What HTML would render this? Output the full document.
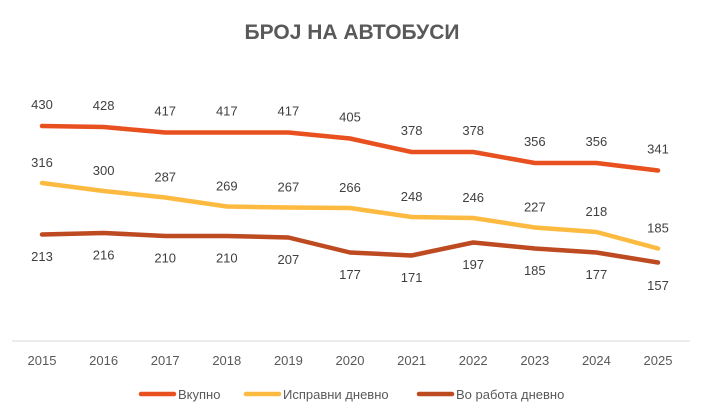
<!DOCTYPE html>
<html><head><meta charset="utf-8"><style>body{margin:0;background:#fff}svg{display:block}</style></head><body>
<svg width="714" height="412" xmlns="http://www.w3.org/2000/svg" font-family="Liberation Sans, sans-serif">
<rect width="714" height="412" fill="#fff"/>
<text x="352" y="39" text-anchor="middle" font-size="21" font-weight="bold" fill="#595959">БРОЈ НА АВТОБУСИ</text>
<line x1="12" y1="341" x2="690" y2="341" stroke="#d9d9d9" stroke-width="1"/>
<g font-size="13" fill="#595959" text-anchor="middle">
<text x="42" y="365">2015</text><text x="103.6" y="365">2016</text><text x="165.2" y="365">2017</text><text x="226.8" y="365">2018</text><text x="288.4" y="365">2019</text><text x="350" y="365">2020</text><text x="411.6" y="365">2021</text><text x="473.2" y="365">2022</text><text x="534.8" y="365">2023</text><text x="596.4" y="365">2024</text><text x="658" y="365">2025</text>
</g>
<g fill="none" stroke-width="4.5" stroke-linecap="round" stroke-linejoin="round">
<polyline stroke="#E9501F" points="42,126 103.6,127 165.2,132.5 226.8,132.5 288.4,132.5 350,138.5 411.6,152 473.2,152 534.8,163 596.4,163 658,170.5"/>
<polyline stroke="#FDBA40" points="42,183 103.6,191 165.2,197.5 226.8,206.5 288.4,207.5 350,208 411.6,217 473.2,218 534.8,227.5 596.4,232 658,248.5"/>
<polyline stroke="#BE4A22" points="42,234.5 103.6,233 165.2,236 226.8,236 288.4,237.5 350,252.5 411.6,255.5 473.2,242.5 534.8,248.5 596.4,252.5 658,262.5"/>
</g>
<g font-size="13" fill="#404040" text-anchor="middle">
<text x="42" y="109">430</text><text x="103.6" y="110">428</text><text x="165.2" y="115.5">417</text><text x="226.8" y="115.5">417</text><text x="288.4" y="115.5">417</text><text x="350" y="121.5">405</text><text x="411.6" y="135">378</text><text x="473.2" y="135">378</text><text x="534.8" y="146">356</text><text x="596.4" y="146">356</text><text x="658" y="153.5">341</text>
<text x="42" y="167">316</text><text x="103.6" y="175">300</text><text x="165.2" y="181.5">287</text><text x="226.8" y="190.5">269</text><text x="288.4" y="191.5">267</text><text x="350" y="192">266</text><text x="411.6" y="201">248</text><text x="473.2" y="202">246</text><text x="534.8" y="211.5">227</text><text x="596.4" y="216">218</text><text x="658" y="232.5">185</text>
<text x="42" y="261">213</text><text x="103.6" y="259.5">216</text><text x="165.2" y="262.5">210</text><text x="226.8" y="262.5">210</text><text x="288.4" y="264">207</text><text x="350" y="279">177</text><text x="411.6" y="282">171</text><text x="473.2" y="269">197</text><text x="534.8" y="275">185</text><text x="596.4" y="279">177</text><text x="658" y="290">157</text>
</g>
<g stroke-width="4.5" stroke-linecap="round">
<line x1="141" y1="394" x2="174" y2="394" stroke="#E9501F"/>
<line x1="246" y1="394" x2="279" y2="394" stroke="#FDBA40"/>
<line x1="419" y1="394" x2="452" y2="394" stroke="#BE4A22"/>
</g>
<g font-size="13" fill="#595959">
<text x="178" y="399">Вкупно</text><text x="283" y="399">Исправни дневно</text><text x="456" y="399">Во работа дневно</text>
</g>
</svg>
</body></html>
